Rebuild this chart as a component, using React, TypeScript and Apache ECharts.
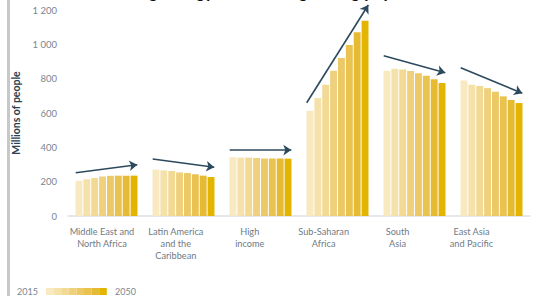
import React, { useEffect, useRef } from "react";
import * as echarts from "echarts";

const regions = [
  "Middle East and\nNorth Africa",
  "Latin America\nand the\nCaribbean",
  "High\nincome",
  "Sub-Saharan\nAfrica",
  "South\nAsia",
  "East Asia\nand Pacific",
];
const years = ["2015", "2020", "2025", "2030", "2035", "2040", "2045", "2050"];

const mena = [205, 214, 221, 230, 234, 235, 235, 235];
const lac = [270, 266, 262, 254, 250, 243, 235, 227];
const highIncome = [342, 340, 340, 338, 335, 335, 335, 334];
const ssa = [613, 687, 765, 846, 920, 996, 1070, 1138];
const southAsia = [846, 858, 854, 845, 831, 817, 796, 775];
const eap = [790, 765, 757, 745, 724, 697, 676, 658];

const regionValues = [mena, lac, highIncome, ssa, southAsia, eap];

// trend arrows: start and end values (millions) per region
const arrowStart = [252, 332, 384, 660, 934, 864];
const arrowEnd = [299, 284, 384, 1229, 835, 715];

const colors = [
  "#f8e9c1",
  "#f5e1aa",
  "#f2d994",
  "#efd17d",
  "#ecc966",
  "#e9c24f",
  "#e6bb33",
  "#e3b500",
];

export default function App() {
  const ref = useRef<HTMLDivElement>(null);
  useEffect(() => {
    document.body.style.margin = "0";
    const chart = echarts.init(ref.current!, null, { renderer: "svg" });
    const font = "Lato";
    const barSeries = years.map((yr, k) => ({
      type: "bar",
      name: yr,
      xAxisIndex: 0,
      yAxisIndex: 0,
      data: regionValues.map((r) => r[k]),
      itemStyle: { color: colors[k] },
      barGap: "14%",
      barCategoryGap: "19.5%",
    }));
    const arrowData = regions.map((_, i) => ({
      coords: [
        [i - 0.4, arrowStart[i]],
        [i + 0.4, arrowEnd[i]],
      ],
    }));
    const legendItems: any[] = [
      {
        type: "text",
        left: 17,
        top: 287,
        style: { text: "2015", fill: "#7a8590", font: `9px ${font}` },
      },
      ...colors.map((c, k) => ({
        type: "rect",
        shape: { x: 46 + k * 7.6, y: 288, width: 7.6, height: 7 },
        style: { fill: c },
      })),
      {
        type: "text",
        left: 115,
        top: 287,
        style: { text: "2050", fill: "#7a8590", font: `9px ${font}` },
      },
    ];
    chart.setOption({
      animation: false,
      textStyle: { fontFamily: font },
      grid: [
        { left: 68, right: 11, top: 10, bottom: 85 },
        { left: 65, width: 443.4, top: 10, bottom: 85 },
      ],
      xAxis: [
        {
          type: "category",
          gridIndex: 0,
          data: regions,
          axisLine: { lineStyle: { color: "#dde0e6", width: 1.5 } },
          axisTick: { show: false },
          axisLabel: { show: false },
        },
        {
          type: "value",
          gridIndex: 0,
          min: -0.5,
          max: 5.5,
          show: false,
        },
        {
          type: "category",
          gridIndex: 1,
          data: regions,
          axisLine: { show: false },
          axisTick: { show: false },
          axisLabel: {
            color: "#6f7b86",
            fontSize: 9.2,
            lineHeight: 12,
            margin: 9,
            interval: 0,
          },
        },
      ],
      yAxis: [
        {
          type: "value",
          gridIndex: 0,
          min: 0,
          max: 1200,
          interval: 200,
          splitLine: { show: false },
          axisLine: { show: false },
          axisTick: { show: false },
          axisLabel: {
            color: "#7a8590",
            fontSize: 9.5,
            margin: 11,
            formatter: (v: number) =>
              String(v).replace(/\B(?=(\d{3})+(?!\d))/g, " "),
          },
          name: "Millions of people",
          nameLocation: "middle",
          nameGap: 42,
          nameRotate: 90,
          nameTextStyle: {
            color: "#2d4152",
            fontWeight: "bold",
            fontSize: 10.5,
          },
        },
        {
          type: "value",
          gridIndex: 1,
          min: 0,
          max: 1200,
          show: false,
        },
      ],
      series: [
        ...barSeries,
        {
          type: "lines",
          coordinateSystem: "cartesian2d",
          xAxisIndex: 1,
          yAxisIndex: 0,
          clip: false,
          symbol: ["none", "arrow"],
          symbolSize: 8,
          lineStyle: { color: "#2c4a5e", width: 1.6, opacity: 1 },
          data: arrowData,
          z: 5,
        },
      ],
      graphic: [
        {
          type: "rect",
          shape: { x: 7, y: 0, width: 3, height: 296 },
          style: { fill: "#c8c8c8" },
        },
        {
          type: "text",
          left: "center",
          top: -17.5,
          style: {
            text: "Meeting energy needs of a growing population",
            fill: "#111111",
            font: `bold 17px ${font}`,
          },
        },
        ...legendItems,
      ],
    });
    return () => chart.dispose();
  }, []);
  return <div ref={ref} style={{ width: 541, height: 301 }} />;
}
